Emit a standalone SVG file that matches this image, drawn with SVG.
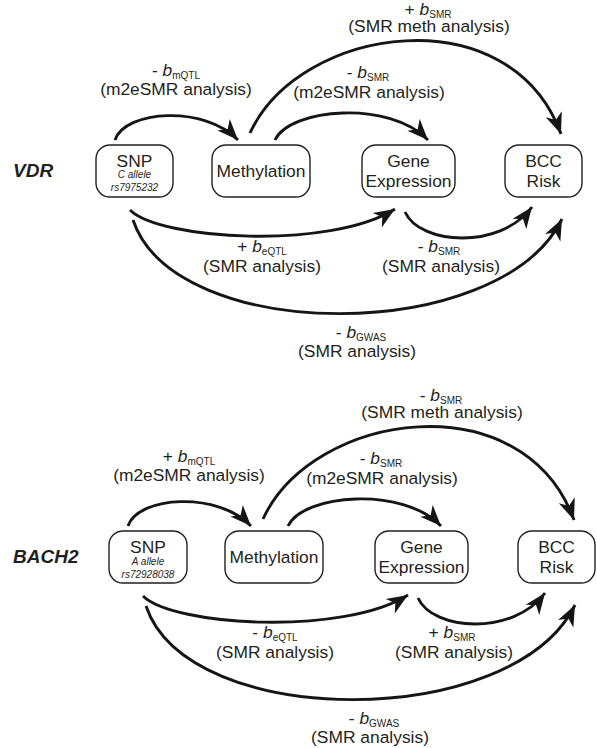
<svg xmlns="http://www.w3.org/2000/svg" width="597" height="748" viewBox="0 0 597 748">
<style>
.bg{fill:#ffffff}
.box{fill:#ffffff;stroke:#231f20;stroke-width:1.4}
.t{font-family:"Liberation Sans",Arial,Helvetica,sans-serif;font-size:17.4px;fill:#231f20;text-anchor:middle}
.sm{font-size:10px;font-style:italic}
.sub{font-size:10px}
.i{font-style:italic}
.gene{font-family:"Liberation Sans",Arial,Helvetica,sans-serif;font-weight:bold;font-style:italic;font-size:19px;fill:#231f20}
.arc{fill:none;stroke:#151515;stroke-width:2.9;marker-end:url(#ah)}
</style>
<defs>
<marker id="ah" markerUnits="userSpaceOnUse" markerWidth="26" markerHeight="22" viewBox="-22 -11 26 22" refX="0" refY="0" orient="auto" overflow="visible">
<path d="M0,0 L-21,-8.5 L-15,0 L-21,8.5 Z" fill="#151515"/>
</marker>
</defs>
<rect class="bg" x="0" y="0" width="597" height="748"/>

<!-- VDR panel -->
<g id="panel-vdr">
<text class="gene" x="13" y="177">VDR</text>
<g id="connectors-vdr">
<path class="arc" d="M115,140 C125,110 205,105 238,140"/>
<path class="arc" d="M250,133 C300,25 510,-5 561,134"/>
<path class="arc" d="M275,140 C290,108 390,100 428,140"/>
<path class="arc" d="M130,210 C160,240 330,250 395,209"/>
<path class="arc" d="M405,212 C420,245 500,250 532,207"/>
<path class="arc" d="M133,220 C175,345 500,345 562,219"/>
</g>
<g id="labels-vdr">
<text class="t" x="176" y="76">- <tspan class="i">b</tspan><tspan class="sub" dy="3">mQTL</tspan></text>
<text class="t" x="176" y="95">(m2eSMR analysis)</text>
<text class="t" x="428" y="15">+ <tspan class="i">b</tspan><tspan class="sub" dy="3">SMR</tspan></text>
<text class="t" x="429" y="32">(SMR meth analysis)</text>
<text class="t" x="368" y="78">- <tspan class="i">b</tspan><tspan class="sub" dy="3">SMR</tspan></text>
<text class="t" x="369" y="98">(m2eSMR analysis)</text>
<text class="t" x="262" y="252">+ <tspan class="i">b</tspan><tspan class="sub" dy="3">eQTL</tspan></text>
<text class="t" x="262" y="272">(SMR analysis)</text>
<text class="t" x="439" y="252">- <tspan class="i">b</tspan><tspan class="sub" dy="3">SMR</tspan></text>
<text class="t" x="441" y="272">(SMR analysis)</text>
<text class="t" x="361" y="338">- <tspan class="i">b</tspan><tspan class="sub" dy="3">GWAS</tspan></text>
<text class="t" x="357" y="357">(SMR analysis)</text>
</g>
<g id="vdr-snp">
<rect class="box" x="96" y="145" width="77" height="52" rx="14"/>
<text class="t" x="134.5" y="167">SNP</text>
<text class="t sm" x="134.5" y="178">C allele</text>
<text class="t sm" x="134.5" y="191">rs7975232</text>
</g>
<g id="vdr-methylation">
<rect class="box" x="212" y="145" width="98" height="52" rx="14"/>
<text class="t" x="261" y="177">Methylation</text>
</g>
<g id="vdr-gene-expression">
<rect class="box" x="362" y="145" width="93" height="52" rx="14"/>
<text class="t" x="408.5" y="167">Gene</text>
<text class="t" x="408.5" y="187">Expression</text>
</g>
<g id="vdr-bcc-risk">
<rect class="box" x="505" y="145" width="77" height="52" rx="14"/>
<text class="t" x="543.5" y="167">BCC</text>
<text class="t" x="543.5" y="187">Risk</text>
</g>
</g>

<!-- BACH2 panel -->
<text class="gene" x="13" y="563">BACH2</text>
<g id="panel-bach2" transform="translate(13,386)">
<g id="connectors-bach2">
<path class="arc" d="M115,140 C125,110 205,105 238,140"/>
<path class="arc" d="M250,133 C300,25 510,-5 561,134"/>
<path class="arc" d="M275,140 C290,108 390,100 428,140"/>
<path class="arc" d="M130,210 C160,240 330,250 395,209"/>
<path class="arc" d="M405,212 C420,245 500,250 532,207"/>
<path class="arc" d="M133,220 C175,345 500,345 562,219"/>
</g>
<g id="labels-bach2">
<text class="t" x="176" y="76">+ <tspan class="i">b</tspan><tspan class="sub" dy="3">mQTL</tspan></text>
<text class="t" x="176" y="95">(m2eSMR analysis)</text>
<text class="t" x="428" y="15">- <tspan class="i">b</tspan><tspan class="sub" dy="3">SMR</tspan></text>
<text class="t" x="429" y="32">(SMR meth analysis)</text>
<text class="t" x="368" y="78">- <tspan class="i">b</tspan><tspan class="sub" dy="3">SMR</tspan></text>
<text class="t" x="369" y="98">(m2eSMR analysis)</text>
<text class="t" x="262" y="252">- <tspan class="i">b</tspan><tspan class="sub" dy="3">eQTL</tspan></text>
<text class="t" x="262" y="272">(SMR analysis)</text>
<text class="t" x="439" y="252">+ <tspan class="i">b</tspan><tspan class="sub" dy="3">SMR</tspan></text>
<text class="t" x="441" y="272">(SMR analysis)</text>
<text class="t" x="361" y="338">- <tspan class="i">b</tspan><tspan class="sub" dy="3">GWAS</tspan></text>
<text class="t" x="357" y="357">(SMR analysis)</text>
</g>
<g id="bach2-snp">
<rect class="box" x="96" y="145" width="78" height="52" rx="14"/>
<text class="t" x="135" y="167">SNP</text>
<text class="t sm" x="135" y="179">A allele</text>
<text class="t sm" x="135" y="192">rs72928038</text>
</g>
<g id="bach2-methylation">
<rect class="box" x="212" y="145" width="98" height="52" rx="14"/>
<text class="t" x="261" y="177">Methylation</text>
</g>
<g id="bach2-gene-expression">
<rect class="box" x="362" y="145" width="93" height="52" rx="14"/>
<text class="t" x="408.5" y="167">Gene</text>
<text class="t" x="408.5" y="187">Expression</text>
</g>
<g id="bach2-bcc-risk">
<rect class="box" x="505" y="145" width="77" height="52" rx="14"/>
<text class="t" x="543.5" y="167">BCC</text>
<text class="t" x="543.5" y="187">Risk</text>
</g>
</g>
</svg>
